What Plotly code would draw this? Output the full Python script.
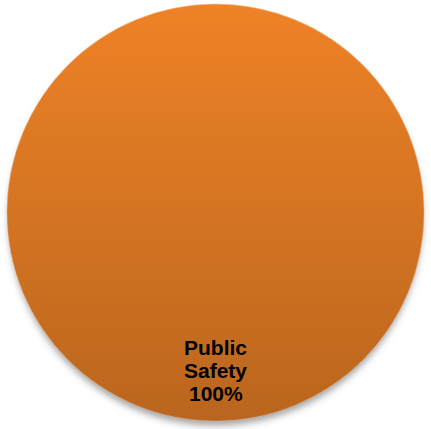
import base64
import plotly.graph_objects as go

# Budget share by category
categories = ["Public Safety"]
shares = [100]
slice_colors = ["#EE8226"]

W, H = 431, 429
ML, MR, MT, MB = 7, 7, 4, 8


def svg_uri(svg):
    return "data:image/svg+xml;base64," + base64.b64encode(svg.encode()).decode()


# vertical shading laid over the disc (light top, darker bottom)
shade_svg = (
    '<svg xmlns="http://www.w3.org/2000/svg" width="400" height="400" viewBox="0 0 100 100">'
    '<defs><linearGradient id="g" x1="0" y1="0" x2="0" y2="1">'
    '<stop offset="0" stop-color="#000" stop-opacity="0"/>'
    '<stop offset="1" stop-color="#000" stop-opacity="0.22"/>'
    '</linearGradient></defs>'
    '<circle cx="50" cy="50" r="50" fill="url(#g)"/></svg>'
)

# soft drop shadow under the disc
shadow_svg = (
    '<svg xmlns="http://www.w3.org/2000/svg" width="440" height="440" viewBox="0 0 110 110">'
    '<defs><filter id="b" x="-20%" y="-20%" width="140%" height="140%">'
    '<feGaussianBlur stdDeviation="0.9"/></filter></defs>'
    '<circle cx="55" cy="56.5" r="49.6" fill="#666" fill-opacity="0.6" filter="url(#b)"/></svg>'
)

fig = go.Figure(
    go.Pie(
        labels=categories,
        values=shares,
        marker=dict(colors=slice_colors, line=dict(color="#F6C49A", width=0.6)),
        textinfo="none",
        sort=False,
        hoverinfo="label+percent",
        showlegend=False,
    )
)

fig.add_layout_image(
    dict(source=svg_uri(shadow_svg), xref="paper", yref="paper",
         x=-0.05, y=1.05, sizex=1.1, sizey=1.1,
         xanchor="left", yanchor="top", sizing="stretch", layer="below")
)
fig.add_layout_image(
    dict(source=svg_uri(shade_svg), xref="paper", yref="paper",
         x=0, y=1, sizex=1, sizey=1,
         xanchor="left", yanchor="top", sizing="stretch", layer="above")
)

# slice label: category words stacked, then percentage, tightly spaced
total = sum(shares)
label_lines = categories[0].split(" ") + [f"{round(shares[0] / total * 100)}%"]
line_y = [0.177, 0.122, 0.067]
for txt, yy in zip(label_lines, line_y):
    fig.add_annotation(
        text=f"<b>{txt}</b>", xref="paper", yref="paper", x=0.5, y=yy,
        xanchor="center", yanchor="middle", showarrow=False,
        font=dict(family="Liberation Sans, Arial, sans-serif", size=21, color="#000000"),
    )

fig.update_layout(
    width=W, height=H,
    margin=dict(l=ML, r=MR, t=MT, b=MB),
    paper_bgcolor="white", plot_bgcolor="white",
)

fig.write_html("out.html")
